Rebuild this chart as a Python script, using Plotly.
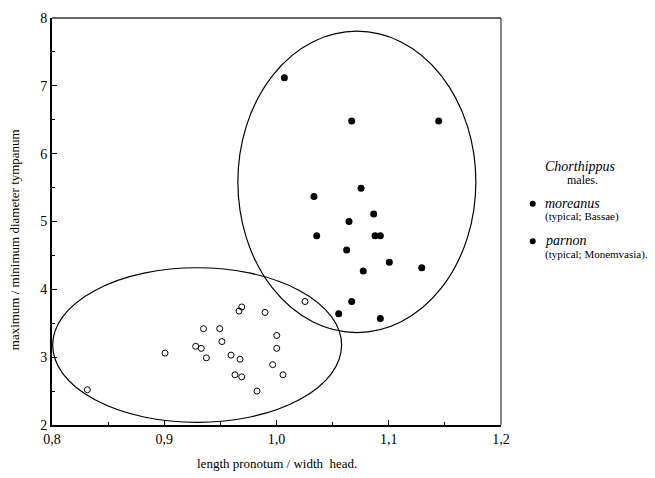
import plotly.graph_objects as go

# moreanus (typical; Bassae) - filled
moreanus_x = [1.007, 1.067, 1.1445, 1.0753, 1.0334, 1.0866, 1.0646, 1.0358, 1.0878, 1.0925,
              1.0625, 1.1005, 1.1294, 1.0773, 1.067, 1.0554, 1.0925]
moreanus_y = [7.12, 6.48, 6.48, 5.49, 5.37, 5.11, 5.00, 4.79, 4.79, 4.79,
              4.58, 4.40, 4.32, 4.27, 3.82, 3.64, 3.57]

# parnon (typical; Monemvasia) - open
parnon_x = [0.8315, 0.9007, 0.928, 0.933, 0.935, 0.9375, 0.9494, 0.9514, 0.9595, 0.963,
            0.9666, 0.969, 0.9675, 0.969, 0.9826, 0.9898, 0.9966, 1.0002, 1.0002, 1.0058, 1.0254]
parnon_y = [2.52, 3.06, 3.16, 3.13, 3.42, 2.99, 3.42, 3.23, 3.03, 2.74,
            3.68, 3.74, 2.97, 2.71, 2.50, 3.66, 2.89, 3.32, 3.13, 2.74, 3.82]

# ellipses: centre x, centre y, half-width, half-height
ellipse_cx = [1.0716, 0.9293]
ellipse_cy = [5.584, 3.178]
ellipse_rx = [0.106, 0.1287]
ellipse_ry = [2.222, 1.14]

x_tickvals = [0.8, 0.9, 1.0, 1.1, 1.2]
x_ticktext = ["0,8", "0,9", "1,0", "1,1", "1,2"]
y_tickvals = [2, 3, 4, 5, 6, 7, 8]

FONT = "Liberation Serif"

fig = go.Figure()
fig.add_trace(go.Scatter(x=moreanus_x, y=moreanus_y, mode="markers",
                         marker=dict(symbol="circle", size=7, color="black"),
                         showlegend=False))
fig.add_trace(go.Scatter(x=parnon_x, y=parnon_y, mode="markers",
                         marker=dict(symbol="circle-open", size=6, color="black",
                                     line=dict(width=1, color="black")),
                         showlegend=False))

for cx, cy, rx, ry in zip(ellipse_cx, ellipse_cy, ellipse_rx, ellipse_ry):
    fig.add_shape(type="circle", xref="x", yref="y",
                  x0=cx - rx, x1=cx + rx, y0=cy - ry, y1=cy + ry,
                  line=dict(color="black", width=1.2), layer="below")

# top and right frame lines
fig.add_shape(type="line", xref="paper", yref="paper", x0=0, x1=1, y0=1, y1=1,
              line=dict(color="#333", width=1.3))
fig.add_shape(type="line", xref="paper", yref="paper", x0=1, x1=1, y0=0, y1=1,
              line=dict(color="#333", width=1.2))

fig.update_xaxes(range=[0.8, 1.2], tickvals=x_tickvals, ticktext=x_ticktext,
                 showgrid=False, zeroline=False, showline=True, linecolor="black",
                 linewidth=2, ticks="inside", ticklen=5, tickcolor="black",
                 minor=dict(dtick=0.05, ticks="inside", ticklen=3, tickcolor="black", showgrid=False),
                 tickfont=dict(family=FONT, size=14, color="black"))
fig.update_yaxes(range=[2, 8], tickvals=y_tickvals,
                 showgrid=False, zeroline=False, showline=True, linecolor="black",
                 linewidth=2, ticks="inside", ticklen=5, tickcolor="black",
                 minor=dict(dtick=0.5, ticks="inside", ticklen=3, tickcolor="black", showgrid=False),
                 tickfont=dict(family=FONT, size=14, color="black"))

ann = []
ann.append(dict(text="maximum / minimum diameter tympanum", x=-0.0846, y=0.454,
                xref="paper", yref="paper", textangle=-90, showarrow=False,
                font=dict(family=FONT, size=13, color="black"), xanchor="center", yanchor="middle"))
ann.append(dict(text="length pronotum / width  head.", x=0.5, y=-0.095,
                xref="paper", yref="paper", showarrow=False,
                font=dict(family=FONT, size=13, color="black"), xanchor="center", yanchor="middle"))
ann.append(dict(text="<i>Chorthippus</i>", x=1.178, y=0.635, xref="paper", yref="paper",
                showarrow=False, font=dict(family=FONT, size=14, color="black"),
                xanchor="center", yanchor="middle"))
ann.append(dict(text="males.", x=1.1826, y=0.601, xref="paper", yref="paper",
                showarrow=False, font=dict(family=FONT, size=12, color="black"),
                xanchor="center", yanchor="middle"))
ann.append(dict(text="<i>moreanus</i>", x=1.0935, y=0.5435, xref="paper", yref="paper",
                showarrow=False, font=dict(family=FONT, size=14, color="black"),
                xanchor="left", yanchor="middle"))
ann.append(dict(text="(typical; Bassae)", x=1.0935, y=0.512, xref="paper", yref="paper",
                showarrow=False, font=dict(family=FONT, size=11, color="black"),
                xanchor="left", yanchor="middle"))
ann.append(dict(text="<i>parnon</i>", x=1.0935, y=0.454, xref="paper", yref="paper",
                showarrow=False, font=dict(family=FONT, size=14, color="black"),
                xanchor="left", yanchor="middle"))
ann.append(dict(text="(typical; Monemvasia).", x=1.0935, y=0.420, xref="paper", yref="paper",
                showarrow=False, font=dict(family=FONT, size=11, color="black"),
                xanchor="left", yanchor="middle"))
for a in ann:
    a["xshift"] = 0
fig.update_layout(annotations=ann)

for yy in [0.5435, 0.4517]:
    fig.add_shape(type="circle", xref="paper", yref="paper", xsizemode="pixel", ysizemode="pixel",
                  xanchor=1.0706, yanchor=yy, x0=-3, x1=3, y0=-3, y1=3,
                  fillcolor="black", line=dict(color="black", width=0))

fig.update_layout(width=655, height=478, margin=dict(l=52, r=154, t=11, b=53),
                  paper_bgcolor="white", plot_bgcolor="white",
                  font=dict(family=FONT, color="black"))

fig.write_html("out.html")
